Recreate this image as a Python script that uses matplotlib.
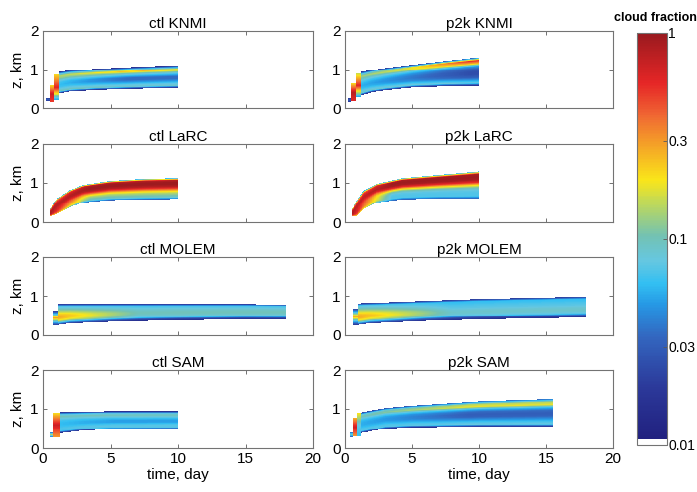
import numpy as np
import matplotlib
matplotlib.use('Agg')
import matplotlib.pyplot as plt
from matplotlib.colors import LinearSegmentedColormap, ListedColormap, LogNorm

plt.rcParams['font.family'] = ['Liberation Sans', 'DejaVu Sans']

# panel order: row by row, ctl on the left, p2k on the right
panels = ['ctl KNMI', 'p2k KNMI', 'ctl LaRC', 'p2k LaRC',
          'ctl MOLEM', 'p2k MOLEM', 'ctl SAM', 'p2k SAM']

# cloud layer base / top (km) read at a few days
layer_days = {
    'ctl KNMI': [1.2, 2, 4, 7, 10],
    'p2k KNMI': [1.2, 2, 3, 5, 7.5, 10],
    'ctl LaRC': [0.5, 1, 2, 3, 5, 7.5, 10],
    'p2k LaRC': [0.5, 0.9, 1.4, 2.4, 4.3, 7, 10],
    'ctl MOLEM': [1.1, 2, 5, 10, 15, 18],
    'p2k MOLEM': [1.0, 1.9, 5.8, 10, 18],
    'ctl SAM': [1.25, 3, 5, 10],
    'p2k SAM': [1.2, 3, 5, 10, 15.5],
}
layer_base = {
    'ctl KNMI': [0.39, 0.44, 0.48, 0.51, 0.53],
    'p2k KNMI': [0.34, 0.42, 0.47, 0.54, 0.57, 0.58],
    'ctl LaRC': [0.15, 0.2, 0.38, 0.5, 0.56, 0.58, 0.59],
    'p2k LaRC': [0.15, 0.16, 0.33, 0.5, 0.58, 0.6, 0.6],
    'ctl MOLEM': [0.26, 0.3, 0.34, 0.38, 0.4, 0.4],
    'p2k MOLEM': [0.26, 0.3, 0.36, 0.4, 0.45],
    'ctl SAM': [0.38, 0.45, 0.48, 0.49],
    'p2k SAM': [0.38, 0.5, 0.53, 0.55, 0.55],
}
layer_top = {
    'ctl KNMI': [0.94, 0.98, 1.02, 1.07, 1.11],
    'p2k KNMI': [0.94, 0.99, 1.04, 1.12, 1.22, 1.31],
    'ctl LaRC': [0.3, 0.6, 0.82, 0.95, 1.05, 1.1, 1.12],
    'p2k LaRC': [0.3, 0.56, 0.8, 0.98, 1.12, 1.2, 1.29],
    'ctl MOLEM': [0.79, 0.79, 0.79, 0.79, 0.79, 0.78],
    'p2k MOLEM': [0.81, 0.82, 0.87, 0.92, 0.98],
    'ctl SAM': [0.92, 0.93, 0.94, 0.94],
    'p2k SAM': [0.91, 1.02, 1.08, 1.19, 1.25],
}

# cloud fraction through the layer, base -> top, first days and later on
profile_early = {
    'ctl KNMI': [0.015, 0.1, 0.08, 0.065, 0.06, 0.065, 0.08, 0.12, 0.14, 0.07, 0.015],
    'p2k KNMI': [0.015, 0.09, 0.075, 0.06, 0.055, 0.06, 0.075, 0.1, 0.13, 0.07, 0.015],
    'ctl LaRC': [0.3, 0.6, 0.8, 0.9, 0.9, 0.9, 0.8, 0.7, 0.5, 0.3, 0.05],
    'p2k LaRC': [0.3, 0.6, 0.8, 0.9, 0.9, 0.9, 0.8, 0.7, 0.5, 0.3, 0.05],
    'ctl MOLEM': [0.02, 0.07, 0.18, 0.26, 0.28, 0.24, 0.17, 0.12, 0.09, 0.07, 0.02],
    'p2k MOLEM': [0.02, 0.07, 0.18, 0.26, 0.28, 0.24, 0.17, 0.12, 0.09, 0.07, 0.02],
    'ctl SAM': [0.015, 0.065, 0.07, 0.065, 0.06, 0.06, 0.065, 0.08, 0.1, 0.07, 0.015],
    'p2k SAM': [0.015, 0.07, 0.07, 0.06, 0.055, 0.055, 0.06, 0.075, 0.1, 0.08, 0.02],
}
profile_late = {
    'ctl KNMI': [0.015, 0.09, 0.075, 0.05, 0.035, 0.035, 0.06, 0.1, 0.25, 0.08, 0.015],
    'p2k KNMI': [0.015, 0.08, 0.05, 0.03, 0.025, 0.025, 0.03, 0.05, 0.25, 0.55, 0.03],
    'ctl LaRC': [0.03, 0.09, 0.11, 0.14, 0.22, 0.45, 0.8, 0.95, 0.97, 0.8, 0.06],
    'p2k LaRC': [0.03, 0.07, 0.07, 0.075, 0.1, 0.2, 0.55, 0.9, 0.97, 0.9, 0.06],
    'ctl MOLEM': [0.015, 0.025, 0.07, 0.085, 0.095, 0.1, 0.095, 0.085, 0.075, 0.065, 0.02],
    'p2k MOLEM': [0.015, 0.025, 0.07, 0.085, 0.09, 0.085, 0.075, 0.07, 0.065, 0.06, 0.02],
    'ctl SAM': [0.02, 0.07, 0.075, 0.065, 0.05, 0.05, 0.06, 0.08, 0.1, 0.07, 0.015],
    'p2k SAM': [0.015, 0.08, 0.065, 0.045, 0.032, 0.03, 0.035, 0.06, 0.18, 0.14, 0.035],
}
profile_fade = {'ctl KNMI': 5, 'p2k KNMI': 8, 'ctl LaRC': 3, 'p2k LaRC': 3,
                'ctl MOLEM': 6, 'p2k MOLEM': 7, 'ctl SAM': 4, 'p2k SAM': 8}

# spin-up columns: day from, day to, z bottom, z top, cf bottom / middle / top
spinup = {
    'ctl KNMI': [(0.25, 0.5, 0.18, 0.25, 0.02, 0.03, 0.02),
                 (0.5, 0.85, 0.15, 0.6, 0.5, 0.7, 0.2),
                 (0.85, 1.2, 0.2, 0.88, 0.05, 0.6, 0.2)],
    'p2k KNMI': [(0.2, 0.45, 0.16, 0.24, 0.02, 0.03, 0.02),
                 (0.45, 0.85, 0.18, 0.65, 0.6, 0.8, 0.2),
                 (0.85, 1.2, 0.28, 0.9, 0.05, 0.6, 0.15)],
    'ctl LaRC': [],
    'p2k LaRC': [],
    'ctl MOLEM': [(0.75, 1.1, 0.25, 0.62, 0.02, 0.3, 0.02)],
    'p2k MOLEM': [(0.6, 1.0, 0.26, 0.68, 0.02, 0.3, 0.02)],
    'ctl SAM': [(0.5, 0.75, 0.28, 0.4, 0.04, 0.15, 0.03),
                (0.75, 1.25, 0.28, 0.9, 0.3, 0.7, 0.2)],
    'p2k SAM': [(0.35, 0.6, 0.28, 0.4, 0.03, 0.1, 0.03),
                (0.6, 0.9, 0.3, 0.78, 0.3, 0.7, 0.25),
                (0.9, 1.2, 0.3, 0.9, 0.06, 0.08, 0.2)],
}

cbar_ticks = [0.01, 0.03, 0.1, 0.3, 1]
cbar_labels = ['0.01', '0.03', '0.1', '0.3', '1']

# colour map, white for the lowest bin
stops = [(0.0, (0.13, 0.13, 0.5)), (0.12, (0.17, 0.22, 0.6)), (0.25, (0.2, 0.4, 0.75)),
         (0.33, (0.15, 0.6, 0.9)), (0.38, (0.2, 0.75, 0.95)), (0.44, (0.4, 0.78, 0.88)),
         (0.5, (0.45, 0.76, 0.7)), (0.58, (0.75, 0.85, 0.35)), (0.64, (0.98, 0.9, 0.1)),
         (0.72, (0.96, 0.65, 0.15)), (0.8, (0.94, 0.4, 0.2)), (0.88, (0.9, 0.15, 0.15)),
         (1.0, (0.6, 0.1, 0.12))]
base_cmap = LinearSegmentedColormap.from_list('cf', stops)
colors = [(1, 1, 1, 1)] * 4 + [base_cmap(v) for v in np.linspace(0, 1, 252)]
cmap = ListedColormap(colors)
cmap.set_bad('white')
norm = LogNorm(vmin=0.01, vmax=1)

t_edges = np.arange(0, 20.0001, 0.05)
z_edges = np.arange(0, 2.0001, 0.025)
tc = 0.5 * (t_edges[:-1] + t_edges[1:])
zc = 0.5 * (z_edges[:-1] + z_edges[1:])


def build_field(name):
    cf = np.full((len(zc), len(tc)), np.nan)
    early = np.log(profile_early[name])
    late = np.log(profile_late[name])
    levels = np.linspace(0, 1, len(early))
    days = layer_days[name]
    for j, t in enumerate(tc):
        done = False
        for (t0, t1, zb, zt, c0, c1, c2) in spinup[name]:
            if t0 <= t < t1:
                s = (zc - zb) / (zt - zb)
                inside = (s >= 0) & (s <= 1)
                cf[inside, j] = np.exp(np.interp(s[inside], [0, 0.5, 1], np.log([c0, c1, c2])))
                done = True
        if done:
            continue
        if days[0] <= t <= days[-1]:
            zb = np.interp(t, days, layer_base[name])
            zt = np.interp(t, days, layer_top[name])
            w = np.clip((t - days[0]) / profile_fade[name], 0, 1)
            prof = (1 - w) * early + w * late
            s = (zc - zb) / (zt - zb)
            inside = (s >= 0) & (s <= 1)
            cf[inside, j] = np.exp(np.interp(s[inside], levels, prof))
    return np.ma.masked_invalid(cf)


fig = plt.figure(figsize=(6.97, 4.92), dpi=100)
lefts = [43 / 697, 345 / 697]
widths = [270 / 697, 268 / 697]
rows_px = [(31, 108), (144, 222), (257, 335), (370, 448)]

mesh = None
for i, name in enumerate(panels):
    row, col = i // 2, i % 2
    top_px, bot_px = rows_px[row]
    ax = fig.add_axes([lefts[col], 1 - bot_px / 492, widths[col], (bot_px - top_px) / 492])
    mesh = ax.pcolormesh(t_edges, z_edges, build_field(name), cmap=cmap, norm=norm,
                         shading='flat', rasterized=True)
    ax.set_xlim(0, 20)
    ax.set_ylim(0, 2)
    ax.set_xticks([0, 5, 10, 15, 20])
    ax.set_yticks([0, 1, 2])
    ax.tick_params(direction='in', top=True, right=True, length=3, width=0.6,
                   color='0.35', labelsize=11, pad=3)
    if row < 3:
        ax.set_xticklabels([])
    else:
        ax.set_xlabel('time, day', fontsize=11, labelpad=1)
    if col == 0:
        ax.set_ylabel('z, km', fontsize=11, labelpad=4)
    for sp in ax.spines.values():
        sp.set_color('0.45')
        sp.set_linewidth(0.8)
    ax.set_title(name, fontsize=11, pad=2)

cax = fig.add_axes([637 / 697, 1 - 445 / 492, 30 / 697, 412 / 492])
cb = fig.colorbar(mesh, cax=cax, ticks=cbar_ticks)
cb.set_ticklabels(cbar_labels)
cb.ax.minorticks_off()
cb.ax.tick_params(direction='in', length=3, width=0.6, color='0.35', labelsize=10, pad=1)
cb.outline.set_edgecolor('0.45')
cb.outline.set_linewidth(0.8)
fig.text(655 / 697, 1 - 18 / 492, 'cloud fraction', ha='center', va='center',
         fontsize=9, fontweight='bold')

fig.savefig('out.png', dpi=100)
